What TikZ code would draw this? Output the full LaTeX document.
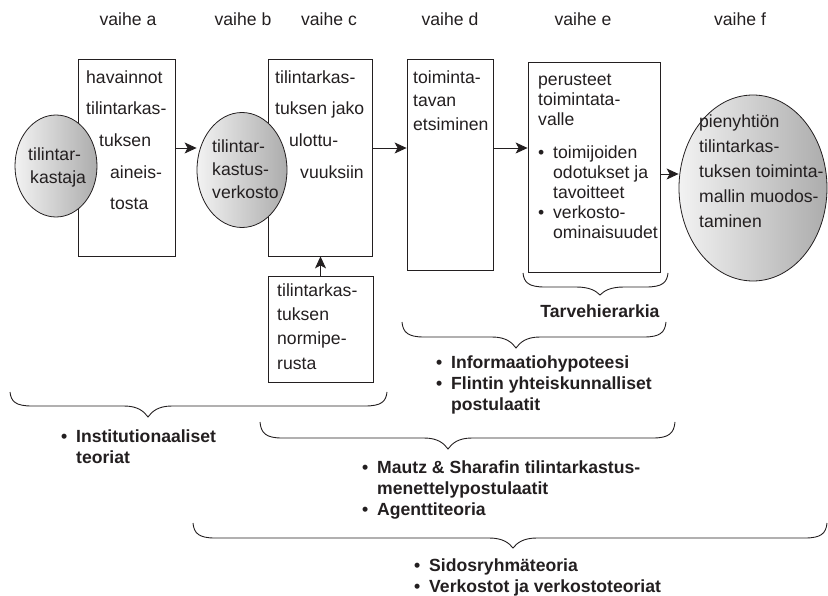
\documentclass[tikz,border=0pt]{standalone}
\usepackage{fontspec}
\setmainfont{Liberation Sans}
\usetikzlibrary{arrows.meta,shapes.geometric,calc}

\definecolor{ink}{HTML}{231F20}
% strut that fixes the top of a text block 14pt above its first baseline
\newcommand\fl{\rule{0pt}{14pt}}
% bullet with a hanging indent
\newcommand\bul{\makebox[15pt][l]{•}}
\newcommand\ind{\hspace*{15pt}}

% flat curly brace: left x, right x, tip x, top y, depth to the bar, depth of the tip
\newcommand\hbrace[6]{%
  \draw[bracestroke] (#1,#4)
    .. controls ({#1+1},{#4+#5*0.7}) and ({#1+6},{#4+#5}) .. ({#1+22},{#4+#5})
    -- ({#3-24},{#4+#5})
    .. controls ({#3-10},{#4+#5}) and ({#3-4},{#4+#5+#6*0.5}) .. ({#3},{#4+#5+#6})
    .. controls ({#3+4},{#4+#5+#6*0.5}) and ({#3+10},{#4+#5}) .. ({#3+24},{#4+#5})
    -- ({#2-22},{#4+#5})
    .. controls ({#2-6},{#4+#5}) and ({#2-1},{#4+#5*0.7}) .. (#2,#4);}

\begin{document}
\begin{tikzpicture}[x=1pt,y=-1pt,
  every node/.style={inner sep=0pt, text=ink},
  stagebox/.style={draw=ink, line width=0.8pt, fill=white},
  actor/.style={ellipse, draw=ink, line width=0.8pt, left color=gray!10, right color=gray!65},
  flow/.style={draw=ink, line width=0.9pt, -{Stealth[length=12pt,width=11pt,inset=3pt]}},
  bracestroke/.style={draw=ink, line width=0.9pt},
  phase/.style={anchor=base, font=\fontsize{17.6}{20}\selectfont},
  txt/.style={anchor=north west, align=left, font=\fontsize{17.6}{#1}\selectfont},
  theory/.style={anchor=north west, align=left, font=\bfseries\fontsize{17.6}{21}\selectfont}]

\useasboundingbox (0,0) rectangle (828,596);

% phase headings
\node[phase] (va) at (128,26) {vaihe a};
\node[phase] (vb) at (243,26) {vaihe b};
\node[phase] (vc) at (329,26) {vaihe c};
\node[phase] (vd) at (450,26) {vaihe d};
\node[phase] (ve) at (583,26) {vaihe e};
\node[phase] (vf) at (740,26) {vaihe f};

% stage boxes
\node[stagebox, minimum width=97pt, minimum height=197pt] (boxA) at (126.5,157.5) {};
\node[stagebox, minimum width=104pt, minimum height=197pt] (boxC) at (320,157.5) {};
\node[stagebox, minimum width=86pt, minimum height=211pt] (boxD) at (450,164.5) {};
\node[stagebox, minimum width=132pt, minimum height=210pt] (boxE) at (594,167) {};
\node[stagebox, minimum width=105pt, minimum height=106pt] (boxN) at (320.5,329) {};

% actors
\node[actor, minimum width=82pt, minimum height=102pt] (auditor) at (56,166) {};
\node[actor, minimum width=90pt, minimum height=115pt] (network) at (242,170) {};
\node[actor, minimum width=148pt, minimum height=186pt] (model) at (753,188) {};

% box and ellipse texts
\node[txt=31.7] (tA) at (86,69) {\fl havainnot\\ tilintarkas-\\ \hspace*{13pt}tuksen\\ \hspace*{24pt}aineis-\\ \hspace*{24pt}tosta};
\node[txt=31.7] (tC) at (275,69) {\fl tilintarkas-\\ tuksen jako\\ \hspace*{14pt}ulottu-\\ \hspace*{25pt}vuuksiin};
\node[txt=23.5] (tD) at (413,69) {\fl toiminta-\\ tavan\\ etsiminen};
\node[txt=20] (tE) at (538,71) {\fl perusteet\\ toimintata-\\ valle\\[13pt] \bul toimijoiden\\ \ind odotukset ja\\ \ind tavoitteet\\ \bul verkosto-\\ \ind ominaisuudet};
\node[txt=24.3] (tN) at (277,282) {\fl tilintarkas-\\ tuksen\\ normipe-\\ rusta};
\node[txt=23] (tAud) at (28,146) {\fl tilintar-\\ \hspace*{2pt}kastaja};
\node[txt=23] (tNet) at (212,138) {\fl tilintar-\\ kastus-\\ verkosto};
\node[txt=25.2] (tMod) at (699,113) {\fl pienyhtiön\\ tilintarkas-\\ tuksen toiminta-\\ mallin muodos-\\ taminen};

% flow arrows
\coordinate (row) at (0,148);
\coordinate (rowF) at (0,174);
\draw[flow] (boxA.east |- row) -- (network.west |- row);
\draw[flow] (boxC.east |- row) -- (boxD.west |- row);
\draw[flow] (boxD.east |- row) -- (boxE.west |- row);
\draw[flow] (boxE.east |- rowF) -- (model.west |- rowF);
\draw[flow] (boxN.north) -- (boxN.north |- boxC.south);

% theory braces
\hbrace{523}{668}{600}{273}{14}{8}
\hbrace{402}{666}{516}{322}{15}{11}
\hbrace{10}{387}{148}{392}{14}{11}
\hbrace{260}{675}{448}{422}{16}{11}
\hbrace{193}{827}{513}{523}{15}{10}

% theory labels
\node[anchor=base, font=\bfseries\fontsize{17.6}{21}\selectfont] (tarve) at (600,317) {Tarvehierarkia};
\node[theory] (info) at (436,354) {\fl\bul Informaatiohypoteesi\\ \bul Flintin yhteiskunnalliset\\ \ind postulaatit};
\node[theory] (inst) at (61,428) {\fl\bul Institutionaaliset\\ \ind teoriat};
\node[theory] (mautz) at (362,459) {\fl\bul Mautz \& Sharafin tilintarkastus-\\ \ind menettelypostulaatit\\ \bul Agenttiteoria};
\node[theory] (sidos) at (414,557) {\fl\bul Sidosryhmäteoria\\ \bul Verkostot ja verkostoteoriat};

\end{tikzpicture}
\end{document}
